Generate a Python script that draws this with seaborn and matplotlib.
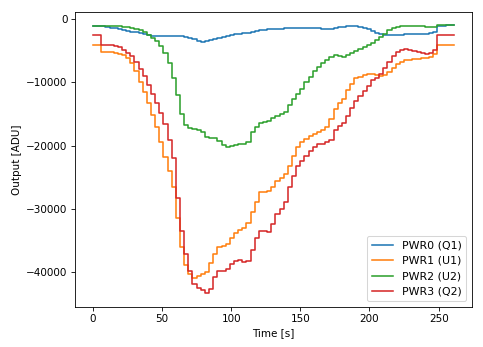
import matplotlib
matplotlib.use("Agg")
import matplotlib.pyplot as plt
import seaborn as sns
import pandas as pd

time_s = list(range(0, 262, 3))

pwr0_q1 = [-1060, -1100, -1150, -1250, -1350, -1450, -1580, -1700, -1820, -1950,
           -2100, -2250, -2400, -2550, -2640, -2640, -2620, -2600, -2620, -2640,
           -2660, -2700, -2800, -2950, -3150, -3400, -3550, -3500, -3300, -3150,
           -2950, -2800, -2650, -2530, -2420, -2330, -2230, -2150, -2000, -1880,
           -1750, -1680, -1620, -1570, -1520, -1490, -1460, -1440, -1430, -1420,
           -1420, -1430, -1440, -1450, -1470, -1500, -1560, -1570, -1450, -1300,
           -1170, -1080, -1060, -1120, -1230, -1350, -1550, -1850, -2150, -2400,
           -2550, -2550, -2530, -2520, -2480, -2420, -2380, -2360, -2340, -2310,
           -2290, -2220, -1950, -1150, -1000, -990, -980, -980]

pwr1_u1 = [-4070, -4070, -5120, -5150, -5200, -5300, -5440, -5700, -6200, -7000,
           -8200, -9900, -11600, -13300, -15200, -17000, -19400, -21800, -24000, -26500,
           -31400, -36000, -38900, -40300, -41000, -40700, -40300, -40000, -38600, -37200,
           -36100, -35900, -35600, -34700, -33900, -33400, -33000, -32200, -30600, -29000,
           -27400, -27350, -27200, -26500, -25600, -25100, -24500, -23200, -21600, -20200,
           -19400, -18900, -18500, -18200, -17900, -17500, -17100, -15800, -14200, -13300,
           -12700, -11200, -10200, -9300, -9150, -8900, -8650, -8650, -8800, -9000,
           -8900, -8400, -7700, -7100, -6800, -6450, -6400, -6300, -6250, -6200,
           -6100, -6000, -5500, -4070, -4070, -4070, -4070, -4070]

pwr2_u2 = [-1000, -1020, -1050, -1080, -1100, -1120, -1150, -1180, -1220, -1350,
           -1500, -1750, -2050, -2450, -2900, -3500, -4300, -5400, -6900, -9300,
           -12000, -15000, -16800, -17200, -17400, -17500, -17900, -18600, -18800, -18800,
           -19300, -19900, -20300, -20100, -19900, -19800, -19800, -19400, -17800, -17000,
           -16500, -16300, -16150, -15700, -15300, -15000, -14700, -13600, -12700, -11900,
           -11100, -10000, -9100, -8200, -7500, -6900, -6400, -6000, -5700, -5800,
           -5950, -5700, -5400, -5100, -4650, -4400, -4100, -3700, -3300, -2850,
           -2300, -1700, -1350, -1200, -1120, -1100, -1100, -1110, -1120, -1150,
           -1180, -1200, -1220, -950, -950, -950, -950, -950]

pwr3_q2 = [-2480, -2480, -4070, -4100, -4150, -4200, -4400, -4800, -5300, -5850,
           -6700, -7900, -9000, -10400, -11900, -13200, -14800, -16600, -19200, -22000,
           -28300, -33500, -37200, -39800, -41900, -42600, -42800, -43400, -42700, -40800,
           -39800, -39900, -39600, -38800, -38300, -38200, -38500, -38300, -36500, -34700,
           -33600, -33600, -33700, -32500, -30900, -30100, -28900, -26500, -24800, -23300,
           -22500, -21700, -20900, -20300, -19800, -19800, -19500, -19100, -17500, -16900,
           -16400, -15400, -14100, -12900, -12100, -11400, -10500, -9700, -9250, -8600,
           -7700, -6700, -5900, -5250, -4920, -4780, -4850, -5010, -5200, -5350,
           -5500, -5300, -4800, -2480, -2480, -2480, -2480, -2480]

series_names = ["PWR0 (Q1)", "PWR1 (U1)", "PWR2 (U2)", "PWR3 (Q2)"]
series_values = [pwr0_q1, pwr1_u1, pwr2_u2, pwr3_q2]

frames = []
for name, vals in zip(series_names, series_values):
    frames.append(pd.DataFrame({"Time [s]": time_s, "Output [ADU]": vals, "channel": name}))
df = pd.concat(frames, ignore_index=True)

DPI = 75
fig, ax = plt.subplots(figsize=(483 / DPI, 347 / DPI), dpi=DPI)
fig.subplots_adjust(left=0.155, right=0.977, bottom=0.116, top=0.966)

palette = ["#1f77b4", "#ff7f0e", "#2ca02c", "#d62728"]
sns.lineplot(data=df, x="Time [s]", y="Output [ADU]", hue="channel",
             hue_order=series_names, palette=palette, drawstyle="steps-post",
             linewidth=1.5, ax=ax, estimator=None, sort=False)

ax.set_xlabel("Time [s]")
ax.set_ylabel("Output [ADU]")
ax.legend(loc="lower right", title=None, fontsize=10.5)

fig.savefig("out.png", dpi=DPI)
